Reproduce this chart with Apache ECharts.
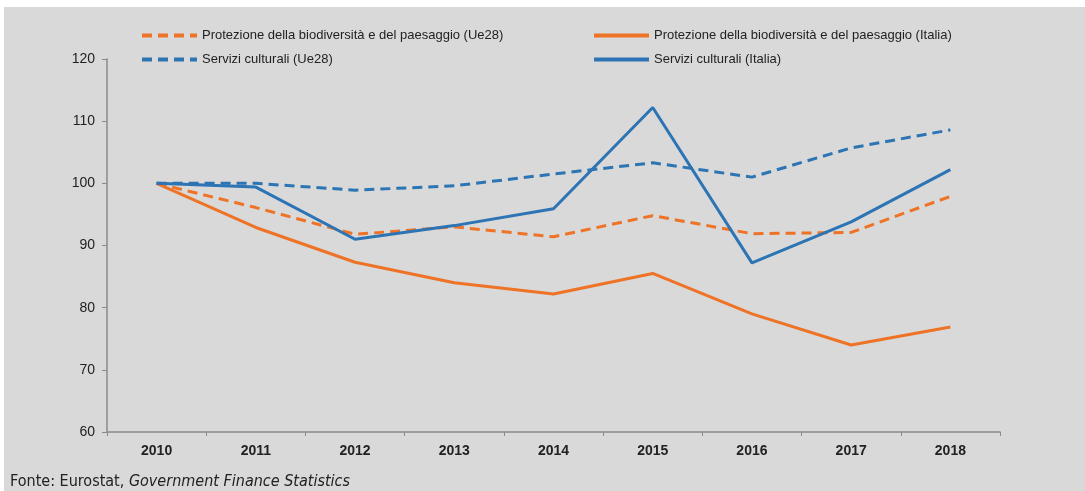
<!DOCTYPE html>
<html>
<head>
<meta charset="utf-8">
<script src="https://cdn.jsdelivr.net/npm/echarts@6/dist/echarts.min.js"></script>
<style>
html,body{margin:0;padding:0;background:#fff;}
#chart{width:1085px;height:491px;}
</style>
</head>
<body>
<div id="chart"></div>
<script>
// dati (indice 2010 = 100)
var anni = ['2010','2011','2012','2013','2014','2015','2016','2017','2018'];
var biodivUe28 = [100, 96.1, 91.8, 93.0, 91.4, 94.8, 91.9, 92.1, 97.9];
var biodivItalia = [100, 92.9, 87.3, 84.0, 82.2, 85.5, 79.0, 74.0, 76.9];
var serviziUe28 = [100, 100, 98.9, 99.6, 101.5, 103.3, 101.0, 105.7, 108.6];
var serviziItalia = [100, 99.4, 91.0, 93.2, 95.9, 112.2, 87.2, 93.8, 102.2];
var yTicks = [60, 70, 80, 90, 100, 110, 120];

var arancio = '#ee7326';
var blu = '#2c74b3';
var font = "'Liberation Sans', Arial, sans-serif";
var fontNarrow = "'Liberation Sans Narrow', 'DejaVu Sans Condensed', sans-serif";

var chart = echarts.init(document.getElementById('chart'));

function serie(nome, dati, colore, tipo) {
	return {
		name: nome,
		type: 'line',
		data: dati,
		symbol: 'none',
		smooth: false,
		lineStyle: { color: colore, width: 3, type: tipo },
		itemStyle: { color: colore }
	};
}

var legendaBase = {
	orient: 'vertical', itemGap: 11, top: 24,
	itemWidth: 55, itemHeight: 14,
	itemStyle: { opacity: 0 },
	lineStyle: { width: 4 },
	textStyle: { fontSize: 13, color: '#222', fontFamily: font }
};

var option = {
	backgroundColor: '#fff',
	animation: false,
	textStyle: { fontFamily: font },
	graphic: [
		{ type: 'rect', z: -10, silent: true, shape: { x: 4, y: 7, width: 1081, height: 484 }, style: { fill: '#d9d9d9' } },
		{
			type: 'text', left: 10, top: 474, silent: true,
			style: {
				text: '{n|Fonte: Eurostat, }{i|Government Finance Statistics}',
				rich: {
					n: { fontSize: 16, fill: '#222', fontFamily: fontNarrow },
					i: { fontSize: 16, fill: '#222', fontStyle: 'italic', fontFamily: fontNarrow }
				}
			}
		}
	],
	legend: [
		Object.assign({}, legendaBase, {
			left: 135,
			data: ['Protezione della biodiversità e del paesaggio (Ue28)', 'Servizi culturali (Ue28)']
		}),
		Object.assign({}, legendaBase, {
			left: 587,
			data: ['Protezione della biodiversità e del paesaggio (Italia)', 'Servizi culturali (Italia)']
		})
	],
	grid: { left: 107, right: 85, top: 59, bottom: 59 },
	xAxis: {
		type: 'category',
		data: anni,
		boundaryGap: true,
		axisLine: { lineStyle: { color: '#8a8a8a', width: 1.5 } },
		axisTick: { show: true, length: 4, lineStyle: { color: '#8a8a8a' } },
		axisLabel: { fontSize: 14, color: '#222', fontWeight: 'bold', margin: 12 }
	},
	yAxis: {
		type: 'value',
		min: yTicks[0],
		max: yTicks[yTicks.length - 1],
		interval: 10,
		axisLine: { show: true, lineStyle: { color: '#8a8a8a', width: 1.5 } },
		axisTick: { show: true, length: 5, lineStyle: { color: '#8a8a8a' } },
		axisLabel: { fontSize: 14, color: '#222', margin: 12 },
		splitLine: { show: false }
	},
	series: [
		serie('Protezione della biodiversità e del paesaggio (Ue28)', biodivUe28, arancio, [10, 6]),
		serie('Protezione della biodiversità e del paesaggio (Italia)', biodivItalia, arancio, 'solid'),
		serie('Servizi culturali (Ue28)', serviziUe28, blu, [10, 6]),
		serie('Servizi culturali (Italia)', serviziItalia, blu, 'solid')
	]
};

chart.setOption(option);
</script>
</body>
</html>
